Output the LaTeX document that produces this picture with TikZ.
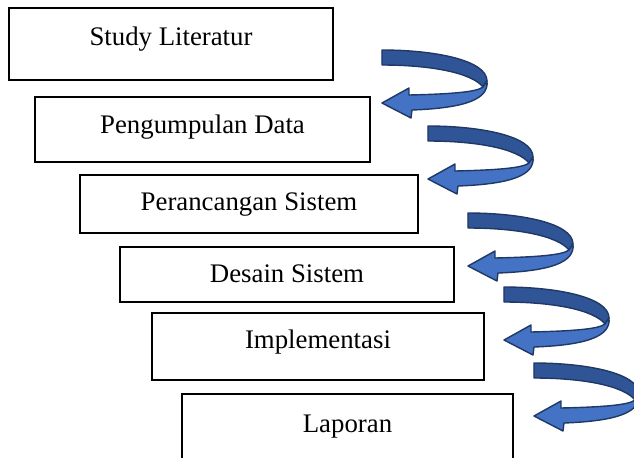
\documentclass[tikz,border=0pt]{standalone}
\usepackage{fontspec}
\setmainfont{Liberation Serif}
\definecolor{bandback}{HTML}{2F5597}
\definecolor{bandfront}{HTML}{4472C4}
\definecolor{bandline}{HTML}{1F3864}
\tikzset{
  % ribbon arrow: dark back band first, the light front band with its head on top
  curvearrow/.pic={
    \filldraw[backband] (0,0) .. controls (52,0) and (105,10) .. (105,31) -- (101,37)
      .. controls (90,23) and (50,15) .. (0,15) -- cycle;
    \filldraw[frontband] (105,31) .. controls (107,49) and (84,58) .. (30,60) -- (29,68)
      -- (0,53) -- (27,38) -- (27,45) .. controls (70,44) and (95,42) .. (101,37) -- cycle;
  }
}
\begin{document}
\begin{tikzpicture}[x=0.5pt, y=-0.5pt, font=\fontsize{13.4}{16}\selectfont,
          stagebox/.style={draw, line width=1.3pt, anchor=north west, inner sep=0pt, outer sep=0pt},
          stagetxt/.style={anchor=base, inner sep=0pt},
          backband/.style={fill=bandback, draw=bandline, line width=0.7pt, line join=round},
          frontband/.style={fill=bandfront, draw=bandline, line width=0.7pt, line join=round}]
        \clip (0,0) rectangle (634,457);
        \node[stagebox, minimum width=162pt, minimum height=36pt] (lit) at (9,8) {};
        \node[stagebox, minimum width=167.5pt, minimum height=32.5pt] (data) at (35,97) {};
        \node[stagebox, minimum width=169pt, minimum height=29pt] (rancang) at (80,175) {};
        \node[stagebox, minimum width=167pt, minimum height=27.5pt] (desain) at (120,247) {};
        \node[stagebox, minimum width=166pt, minimum height=33.5pt] (impl) at (152,313) {};
        \node[stagebox, minimum width=165.5pt, minimum height=40pt] (lapor) at (182,394) {};
        \node[stagetxt] (litT) at ([yshift=-18.5pt]lit.north) {Study Literatur};
        \node[stagetxt] (dataT) at ([yshift=-18pt]data.north) {Pengumpulan Data};
        \node[stagetxt] (rancangT) at ([yshift=-17.5pt]rancang.north) {Perancangan Sistem};
        \node[stagetxt] (desainT) at ([yshift=-17.5pt]desain.north) {Desain Sistem};
        \node[stagetxt] (implT) at ([yshift=-17.5pt]impl.north) {Implementasi};
        \node[stagetxt] (laporT) at ([yshift=-19pt]lapor.north) {Laporan};
        \foreach \ax/\ay in {382/50, 428/126, 468/213, 504/287, 534/363} {
          \pic at (\ax,\ay) {curvearrow};
        }
\end{tikzpicture}
\end{document}
